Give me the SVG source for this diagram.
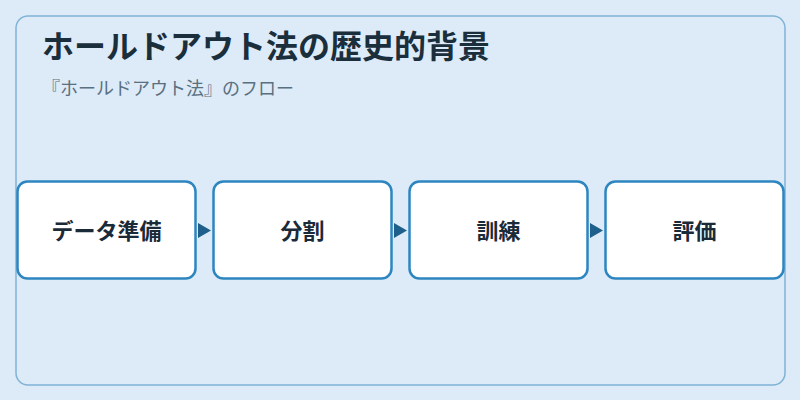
<svg xmlns="http://www.w3.org/2000/svg" width="800" height="400" viewBox="0 0 800 400">
<defs>
<style>
.node rect{fill:#ffffff;stroke:#2e86c1;stroke-width:2.5}
.node text{font-family:"Noto Sans CJK JP","Noto Sans",sans-serif;font-size:22px;font-weight:bold;fill:#1b2a38;text-anchor:middle;dominant-baseline:central}
.conn path{fill:#1f5f8b;stroke:none}
</style>
</defs>
<rect x="0" y="0" width="800" height="400" fill="#dcebf7"/>
<rect x="16" y="16" width="769" height="369" rx="12" fill="#dcebf7" stroke="#7fb3d5" stroke-width="1.5"/>
<text x="42" y="58" font-family="'Noto Sans CJK JP','Noto Sans',sans-serif" font-size="32" font-weight="bold" fill="#1b2e3c">ホールドアウト法の歴史的背景</text>
<text x="42" y="95" font-family="'Noto Sans CJK JP','Noto Sans',sans-serif" font-size="18" fill="#5a6f80">『ホールドアウト法』のフロー</text>
<g id="connectors" class="conn">
<path d="M198,223 L211,230.5 L198,238 Z"/>
<path d="M394,223 L407,230.5 L394,238 Z"/>
<path d="M590,223 L603,230.5 L590,238 Z"/>
</g>
<g id="node1" class="node"><rect x="17.5" y="181.5" width="178" height="97" rx="10"/><text x="106.5" y="229">データ準備</text></g>
<g id="node2" class="node"><rect x="213.5" y="181.5" width="178" height="97" rx="10"/><text x="302.5" y="229">分割</text></g>
<g id="node3" class="node"><rect x="409.5" y="181.5" width="178" height="97" rx="10"/><text x="498.5" y="229">訓練</text></g>
<g id="node4" class="node"><rect x="605.5" y="181.5" width="178" height="97" rx="10"/><text x="694.5" y="229">評価</text></g>
</svg>
